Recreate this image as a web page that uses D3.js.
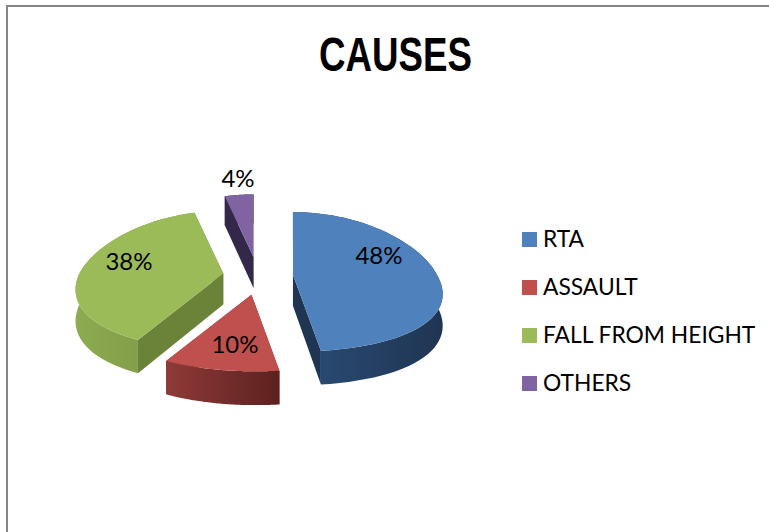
<!DOCTYPE html>
<html>
<head>
<meta charset="utf-8">
<script src="https://d3js.org/d3.v7.min.js"></script>
<style>
  html, body { margin: 0; padding: 0; background: #fff; }
  svg { display: block; }
  text { fill: #000; }
</style>
</head>
<body>
<div id="chart"></div>
<script>
var categories = ["RTA", "ASSAULT", "FALL FROM HEIGHT", "OTHERS"];
var percents = [48, 10, 38, 4];
var percentLabels = ["48%", "10%", "38%", "4%"];

var width = 769, height = 532;
var topColors = ["#4f81bd", "#c0504d", "#9bbb59", "#8064a2"];
var wallColors = ["#1f3552", "#7a2f2d", "#6b8239", "#34284a"];
var rimColors = [["#2b4d78", "#1f3552"], ["#8f3a38", "#5c211f"], ["#8dab50", "#7a9444"], ["#34284a", "#34284a"]];

// hand tuned against the picture
var center = {x: 258, y: 276},
    explode = {x: 35, y: 19},
    depth = 31;
var labelPos = [[379, 256], [235, 345], [129, 262], [238, 179]];

var rx = d3.scaleLinear().domain([-1, 1]).range([-144, 144]);
var ry = d3.scaleLinear().domain([-1, 1]).range([-69, 69]);

// fake perspective: the front of the disc (v > 0) is drawn bigger and leans right a bit
function project(a) {
  var u = Math.sin(a), v = -Math.cos(a);
  return {
    x: rx(u) / (1 - 0.25 * v) + Math.max(v, 0) * 4,
    y: ry(v) / (1 - 0.1 * v),
    d: depth * Math.pow(1 / (1 - 0.25 * v), 0.3)
  };
}

var svg = d3.select("#chart").append("svg").attr("width", width).attr("height", height);

svg.append("path")
  .attr("d", "M7,532V6H769")
  .attr("fill", "none")
  .attr("stroke", "#868686")
  .attr("stroke-width", 2);

svg.append("text")
  .attr("x", 395.5).attr("y", 71)
  .attr("text-anchor", "middle")
  .attr("textLength", 153)
  .attr("lengthAdjust", "spacingAndGlyphs")
  .style("font", "bold 49px 'Liberation Sans'")
  .text("CAUSES");

var defs = svg.append("defs");
var arcs = d3.pie().sort(null).startAngle(0).endAngle(2 * Math.PI)(percents);
var line = d3.line().x(function(d) { return d[0]; }).y(function(d) { return d[1]; });

var g = svg.selectAll("g.slice").data(arcs).enter().append("g")
  .attr("class", "slice")
  .attr("transform", function(d) {
    var m = (d.startAngle + d.endAngle) / 2;
    return "translate(" + (center.x + explode.x * Math.sin(m)) + "," + (center.y - explode.y * Math.cos(m)) + ")";
  });

g.each(function(d, i) {
  var sel = d3.select(this);
  var steps = d3.range(0, 61).map(function(k) {
    return project(d.startAngle + (d.endAngle - d.startAngle) * k / 60);
  });
  var first = steps[0], last = steps[60];

  var grad = defs.append("linearGradient")
    .attr("id", "rim" + i)
    .attr("gradientUnits", "userSpaceOnUse")
    .attr("x1", d3.min(steps, function(p) { return p.x; })).attr("y1", 0)
    .attr("x2", d3.max(steps, function(p) { return p.x; })).attr("y2", 0);
  grad.append("stop").attr("offset", 0).attr("stop-color", rimColors[i][0]);
  grad.append("stop").attr("offset", 1).attr("stop-color", rimColors[i][1]);

  // the two cut faces, the top hides whichever one faces away
  [first, last].forEach(function(p) {
    sel.append("path")
      .attr("d", line([[0, 0], [p.x, p.y], [p.x, p.y + p.d], [0, depth]]) + "Z")
      .attr("fill", wallColors[i]);
  });

  var upper = steps.map(function(p) { return [p.x, p.y]; });
  var lower = steps.slice().reverse().map(function(p) { return [p.x, p.y + p.d]; });
  sel.append("path")
    .attr("d", line(upper.concat(lower)) + "Z")
    .attr("fill", "url(#rim" + i + ")");

  sel.append("path")
    .attr("d", line([[0, 0]].concat(upper)) + "Z")
    .attr("fill", topColors[i]);
});

svg.selectAll("text.pct").data(percentLabels).enter().append("text")
  .attr("class", "pct")
  .attr("x", function(d, i) { return labelPos[i][0]; })
  .attr("y", function(d, i) { return labelPos[i][1] + 8; })
  .attr("text-anchor", "middle")
  .style("font", "24px Lato")
  .text(function(d) { return d; });

var legendY = d3.scalePoint().domain(categories).range([239.5, 383.5]);
var legend = svg.selectAll("g.legend").data(categories).enter().append("g")
  .attr("class", "legend")
  .attr("transform", function(d) { return "translate(522," + legendY(d) + ")"; });
legend.append("rect")
  .attr("x", 0).attr("y", -7.5).attr("width", 15).attr("height", 15)
  .attr("fill", function(d, i) { return topColors[i]; });
legend.append("text")
  .attr("x", 21).attr("y", 7.5)
  .style("font", "22.8px Lato")
  .text(function(d) { return d; });
</script>
</body>
</html>
